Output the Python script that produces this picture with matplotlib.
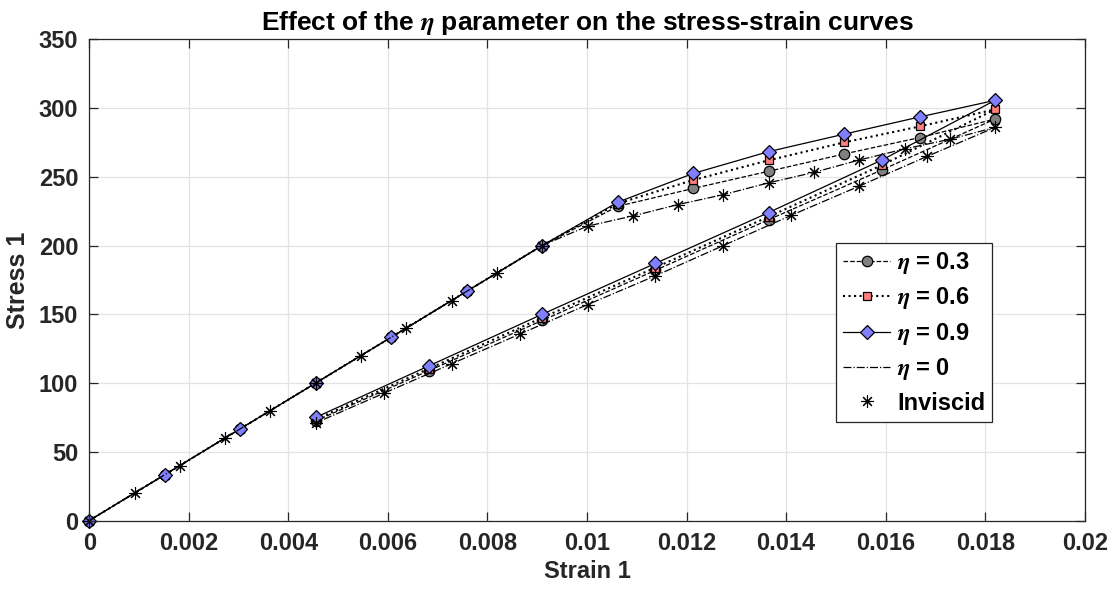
import matplotlib
matplotlib.use("Agg")
import matplotlib.pyplot as plt

plt.rcParams['font.family'] = ['Liberation Sans', 'DejaVu Sans']
plt.rcParams['font.weight'] = 'bold'
plt.rcParams['mathtext.fontset'] = 'stix'

# strain grid of the viscous runs (loading then unloading)
strain_eta = [0, 0.001517, 0.003033, 0.00455, 0.006067, 0.007583, 0.0091,
              0.010617, 0.012133, 0.01365, 0.015167, 0.016683, 0.0182,
              0.015925, 0.01365, 0.011375, 0.0091, 0.006825, 0.00455]

stress_eta03 = [0, 33.3, 66.7, 100, 133.3, 166.7, 200,
                228.5, 241.5, 254, 266.6, 278.5, 292,
                255, 218.8, 182, 145.5, 109, 72.5]
stress_eta06 = [0, 33.3, 66.7, 100, 133.3, 166.7, 200,
                230.5, 247.6, 262, 275, 286.6, 299,
                258.5, 221, 184, 147.5, 110.5, 73.5]
stress_eta09 = [0, 33.3, 66.7, 100, 133.3, 166.7, 200,
                231.5, 252.4, 268.3, 281, 293.5, 305.6,
                262.2, 224, 187, 150, 112.5, 75]

# inviscid solution (also the eta = 0 curve)
strain_inv = [0, 0.00091, 0.00182, 0.00273, 0.00364, 0.00455, 0.00546,
              0.00637, 0.00728, 0.00819, 0.0091, 0.01001, 0.01092, 0.01183,
              0.01274, 0.01365, 0.01456, 0.01547, 0.01638, 0.01729, 0.0182,
              0.016835, 0.01547, 0.014105, 0.01274, 0.011375, 0.01001,
              0.008645, 0.00728, 0.005915, 0.00455]
stress_inv = [0, 20, 40, 60, 80, 100, 120, 140, 160, 180, 200,
              214.1, 221.5, 229.8, 237, 245.6, 253.2, 262.2, 270.2, 277.3, 285.9,
              264.9, 243.2, 222, 200, 178, 157, 135.5, 114, 92.5, 71]

xticks = [0, 0.002, 0.004, 0.006, 0.008, 0.01, 0.012, 0.014, 0.016, 0.018, 0.02]
xticklabels = ['0', '0.002', '0.004', '0.006', '0.008', '0.01', '0.012',
               '0.014', '0.016', '0.018', '0.02']
yticks = [0, 50, 100, 150, 200, 250, 300, 350]

dark = '#262626'
asterisk = (8, 2, 0)  # matlab style '*'

fig = plt.figure(figsize=(11.16, 5.95), dpi=100)
ax = fig.add_axes([0.080, 0.1252, 0.892, 0.8088])

ax.plot(strain_eta, stress_eta03, '--', color='k', lw=0.9, marker='o', ms=7.5,
        mfc='#808080', mec='k', mew=0.9, label=r'$\eta$ = 0.3', clip_on=False)
ax.plot(strain_eta, stress_eta06, ':', color='k', lw=1.5, marker='s', ms=5.5,
        mfc='#ff8080', mec='k', mew=0.9, label=r'$\eta$ = 0.6', clip_on=False)
ax.plot(strain_eta, stress_eta09, '-', color='k', lw=0.9, marker='D', ms=7.5,
        mfc='#8080ff', mec='k', mew=0.9, label=r'$\eta$ = 0.9', clip_on=False)
ax.plot(strain_inv, stress_inv, '-.', color='k', lw=0.9, label=r'$\eta$ = 0',
        clip_on=False)
ax.plot(strain_inv, stress_inv, ls='none', marker=asterisk, ms=9, color='k',
        mew=0.8, label='Inviscid', clip_on=False)

ax.set_xlim(0, 0.02)
ax.set_ylim(0, 350)
ax.set_xticks(xticks)
ax.set_xticklabels(xticklabels)
ax.set_yticks(yticks)
ax.grid(True, color='#e3e3e3', lw=0.9)
ax.set_axisbelow(True)
ax.tick_params(direction='in', length=6.5, width=0.9, colors=dark,
               labelsize=17, top=True, right=True, pad=8)
for lbl in ax.get_xticklabels() + ax.get_yticklabels():
    lbl.set_fontweight('bold')
for s in ax.spines.values():
    s.set_color(dark)
    s.set_linewidth(0.9)

ax.set_xlabel('Strain 1', fontsize=17, fontweight='bold', color=dark, labelpad=4)
ax.set_ylabel('Stress 1', fontsize=18, fontweight='bold', color=dark, labelpad=6)
ax.set_title(r'Effect of the $\eta$ parameter on the stress-strain curves',
             fontsize=19, fontweight='bold', color='k', pad=7)

leg = ax.legend(loc='upper left', bbox_to_anchor=(0.75, 0.577), borderaxespad=0,
                fancybox=False, framealpha=1, edgecolor=dark,
                prop={'size': 17, 'weight': 'bold'}, handlelength=2.0,
                handletextpad=0.3, labelspacing=0.4, borderpad=0.3)
leg.get_frame().set_linewidth(0.9)

fig.savefig('out.png', dpi=100)
